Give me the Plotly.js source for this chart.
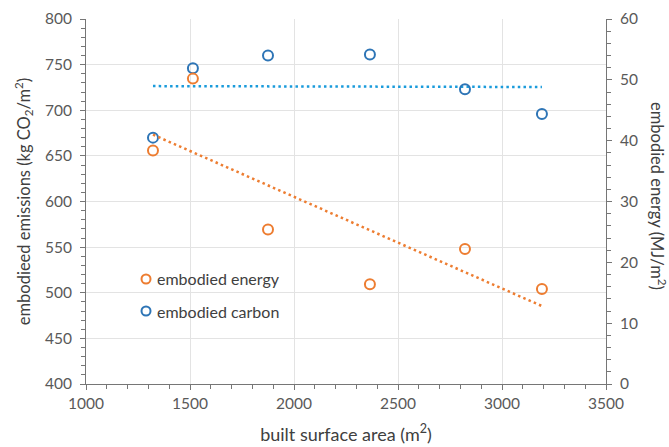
<!DOCTYPE html>
<html>
<head>
<meta charset="utf-8">
<script src="https://cdn.plot.ly/plotly-3.0.1.min.js"></script>
<style>html,body{margin:0;padding:0;background:#fff;}#chart{width:669px;height:447px;}</style>
</head>
<body>
<div id="chart"></div>
<script>
// Data
var builtArea = [1322, 1514, 1875, 2365, 2822, 3192];          // m²
var embodiedCarbon = [670, 746, 760, 761, 723, 696];            // kg CO2/m² (left axis)
var embodiedEnergy = [38.4, 50.2, 25.4, 16.4, 22.2, 15.6];      // MJ/m² (right axis)
var xTicks = [1000, 1500, 2000, 2500, 3000, 3500];
var legendLabels = ['embodied energy', 'embodied carbon'];

// linear least-squares trendline (as in the spreadsheet chart)
function linFit(xs, ys) {
  var n = xs.length, mx = 0, my = 0;
  for (var i = 0; i < n; i++) { mx += xs[i]; my += ys[i]; }
  mx /= n; my /= n;
  var sxy = 0, sxx = 0;
  for (var j = 0; j < n; j++) { sxy += (xs[j]-mx)*(ys[j]-my); sxx += (xs[j]-mx)*(xs[j]-mx); }
  var b = sxy / sxx, a = my - b*mx;
  var x0 = Math.min.apply(null, xs), x1 = Math.max.apply(null, xs);
  return {x: [x0, x1], y: [a + b*x0, a + b*x1]};
}
var fitC = linFit(builtArea, embodiedCarbon);
var fitE = linFit(builtArea, embodiedEnergy);

var orange = '#ED7D31', blue = '#2E75B6', blueTrend = '#1A9BDB';
var FONT = 'Lato, "Open Sans", sans-serif';

var traces = [
  {x: fitC.x, y: fitC.y, mode: 'lines', yaxis: 'y', line: {color: blueTrend, width: 2.5, dash: '2.5px,3.2px'}, hoverinfo: 'skip', showlegend: false},
  {x: fitE.x, y: fitE.y, mode: 'lines', yaxis: 'y2', line: {color: orange, width: 2.5, dash: '2.5px,3.2px'}, hoverinfo: 'skip', showlegend: false},
  {x: builtArea, y: embodiedCarbon, mode: 'markers', yaxis: 'y', name: legendLabels[1],
   marker: {symbol: 'circle-open', size: 10, color: blue, line: {width: 2, color: blue}}, showlegend: false},
  {x: builtArea, y: embodiedEnergy, mode: 'markers', yaxis: 'y2', name: legendLabels[0],
   marker: {symbol: 'circle-open', size: 10, color: orange, line: {width: 2, color: orange}}, showlegend: false}
];

var axisCommon = {
  showline: true, linecolor: '#767676', linewidth: 1,
  ticks: 'outside', ticklen: 5, tickcolor: '#767676', tickwidth: 1,
  tickfont: {family: FONT, size: 15.5, color: '#595959'},
  zeroline: false
};

var layout = {
  width: 669, height: 447,
  margin: {l: 86, r: 63, t: 19, b: 63},
  paper_bgcolor: '#fff', plot_bgcolor: '#fff',
  showlegend: false,
  font: {family: FONT},
  xaxis: Object.assign({}, axisCommon, {
    range: [1000, 3500], tickvals: xTicks, showgrid: true, gridcolor: '#E3E3E3', gridwidth: 1,
    minor: {dtick: 100, ticks: 'outside', ticklen: 4, tickcolor: '#767676', showgrid: false},
    title: {text: 'built surface area (m<sup>2</sup>)', font: {family: FONT, size: 18, color: '#404040'}, standoff: 17}
  }),
  yaxis: Object.assign({}, axisCommon, {
    range: [400, 800], dtick: 50, showgrid: true, gridcolor: '#E3E3E3', gridwidth: 1,
    ticklabelstandoff: 5,
    minor: {dtick: 10, ticks: 'outside', ticklen: 4, tickcolor: '#767676', showgrid: false},
    title: {text: 'embodieed emissions (kg CO<sub>2</sub>/m<sup>2</sup>)', font: {family: FONT, size: 16.5, color: '#404040'}, standoff: 10}
  }),
  yaxis2: Object.assign({}, axisCommon, {
    overlaying: 'y', side: 'right', range: [0, 60], dtick: 10, showgrid: false,
    ticklabelstandoff: 5,
    minor: {dtick: 2, ticks: 'outside', ticklen: 4, tickcolor: '#767676', showgrid: false}
  }),
  annotations: [
    {xref: 'paper', yref: 'paper', x: 1.1, y: 0.515, xanchor: 'center', yanchor: 'middle', textangle: 90,
     text: 'embodied energy (MJ/m<sup>2</sup>)', showarrow: false, font: {family: FONT, size: 16.5, color: '#404040'}},
    {xref: 'paper', yref: 'paper', x: 0.1327, y: 0.2877, xanchor: 'left', yanchor: 'middle',
     text: legendLabels[0], showarrow: false, font: {family: FONT, size: 16, color: '#404040'}},
    {xref: 'paper', yref: 'paper', x: 0.1327, y: 0.200, xanchor: 'left', yanchor: 'middle',
     text: legendLabels[1], showarrow: false, font: {family: FONT, size: 16, color: '#404040'}}
  ],
  shapes: [
    {type: 'circle', xref: 'paper', yref: 'paper', xsizemode: 'pixel', ysizemode: 'pixel',
     xanchor: 0.1154, yanchor: 0.2877, x0: -4.5, x1: 4.5, y0: -4.5, y1: 4.5, line: {color: orange, width: 2}},
    {type: 'circle', xref: 'paper', yref: 'paper', xsizemode: 'pixel', ysizemode: 'pixel',
     xanchor: 0.1154, yanchor: 0.200, x0: -4.5, x1: 4.5, y0: -4.5, y1: 4.5, line: {color: blue, width: 2}}
  ]
};

Plotly.newPlot('chart', traces, layout, {displayModeBar: false, staticPlot: true});
</script>
</body>
</html>
